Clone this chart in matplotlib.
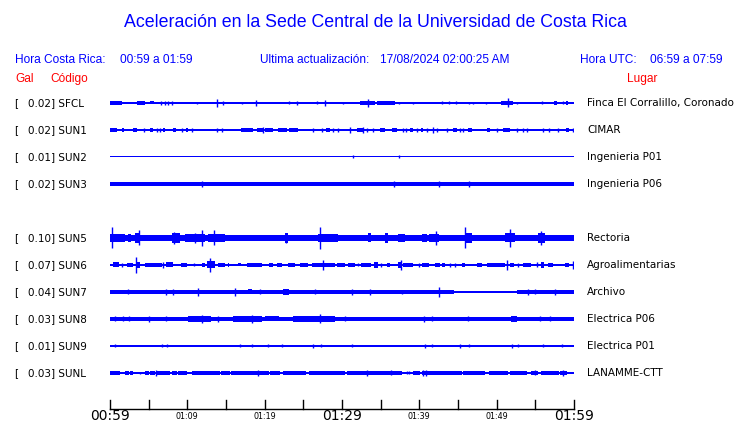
import matplotlib
matplotlib.use("Agg")
import matplotlib.pyplot as plt

# ---------------- data ----------------
codes = ["SFCL", "SUN1", "SUN2", "SUN3", "SUN5", "SUN6", "SUN7", "SUN8", "SUN9", "SUNL"]
gal = [0.02, 0.02, 0.01, 0.02, 0.10, 0.07, 0.04, 0.03, 0.01, 0.03]
places = ["Finca El Corralillo, Coronado", "CIMAR", "Ingenieria P01", "Ingenieria P06",
          "Rectoria", "Agroalimentarias", "Archivo", "Electrica P06", "Electrica P01",
          "LANAMME-CTT"]
title = "Aceleración en la Sede Central de la Universidad de Costa Rica"
cr_range = "00:59 a 01:59"
utc_range = "06:59 a 07:59"
updated = "17/08/2024 02:00:25 AM"
time_labels = ["00:59", "01:09", "01:19", "01:29", "01:39", "01:49", "01:59"]
time_label_minutes = [0, 10, 20, 30, 40, 50, 60]
tick_minutes = [0, 5, 10, 15, 20, 25, 30, 35, 40, 45, 50, 55, 60]

# background amplitude of each trace (half-width of the quiet band)
base_amp = [0.7, 0.7, 0.5, 1.8, 3.0, 0.7, 0.7, 1.8, 0.6, 0.7]

# bursts: (start minute, end minute, half amplitude)
sfcl_bursts = [(0.0, 1.5, 1.6), (3.5, 4.5, 1.8), (5.2, 5.7, 1.5), (32.3, 34.3, 2.2),
               (34.5, 36.9, 1.8), (50.5, 52.1, 1.8), (57.4, 57.8, 1.8), (59.0, 59.2, 1.8)]
sfcl_spikes = [(6.6, 2), (7.1, 2), (7.5, 2), (8.0, 2), (11.25, 1.2), (13.8, 4), (14.6, 2),
               (17.1, 1.2), (18.9, 3), (23.1, 1.5), (24.2, 2), (26.8, 1.5), (27.8, 3),
               (30.1, 1.2), (33.4, 4), (37.4, 1.2), (39.2, 1.2), (42.9, 1.5), (43.8, 1.5),
               (44.7, 1.5), (46.4, 1.2), (46.9, 1.2), (48.6, 1.2), (51.5, 4.5), (52.6, 1.2),
               (55.9, 1.5), (58.6, 1.5)]

sun1_bursts = [(0.0, 0.9, 1.6), (1.55, 1.8, 1.6), (3.0, 3.5, 1.6), (5.2, 5.6, 1.6),
               (6.9, 7.1, 1.6), (8.1, 8.5, 1.6), (9.8, 10.1, 1.6), (11.4, 11.8, 1.4),
               (12.2, 12.6, 1.4), (12.9, 13.3, 1.4), (15.4, 16.5, 1.4), (17.0, 18.5, 1.6),
               (19.0, 19.8, 1.6), (20.0, 21.1, 1.6), (21.7, 22.9, 1.6), (23.1, 24.3, 1.6),
               (27.9, 28.4, 1.6), (31.9, 32.7, 1.6), (34.9, 35.6, 1.6), (36.5, 37.1, 1.6),
               (38.8, 39.2, 1.6), (40.2, 40.5, 1.6), (44.4, 44.9, 1.6), (46.3, 46.8, 1.6),
               (48.8, 49.1, 1.6), (50.8, 51.7, 1.6), (59.0, 59.4, 1.6)]
sun1_spikes = [(4.4, 1.7), (6.1, 1.7), (6.5, 1.7), (9.3, 1.7), (10.6, 1.7), (13.8, 1.7),
               (14.5, 1.7), (19.8, 3), (26.3, 1.7), (27.4, 1.7), (28.8, 1.7), (29.5, 1.7),
               (31.0, 3), (32.7, 3), (33.2, 1.7), (34.0, 1.7), (37.9, 1.7), (38.3, 1.7),
               (39.7, 1.7), (41.0, 1.7), (41.8, 3), (42.3, 1.7), (43.6, 1.7), (45.3, 1.7),
               (45.6, 1.7), (50.0, 1.7), (52.6, 1.7), (53.4, 1.7), (53.9, 1.7), (56.0, 1.7),
               (56.8, 1.7), (57.9, 1.7), (59.9, 1.7)]

sun2_bursts = []
sun2_spikes = [(31.4, 1.5), (37.4, 1.5)]

sun3_bursts = [(40.4, 40.8, 2.4)]
sun3_spikes = [(11.9, 3), (36.7, 3), (42.5, 3), (46.4, 3)]

sun5_bursts = [(0.0, 1.9, 4), (2.3, 2.7, 4), (3.2, 3.9, 5), (8.0, 9.1, 5),
               (9.7, 12.3, 3.8), (12.7, 14.9, 3.8), (22.6, 23.0, 5),
               (26.9, 29.5, 3.8), (33.4, 33.8, 4.5), (35.6, 36.0, 5),
               (37.3, 38.1, 4), (40.3, 41.0, 4.3), (41.2, 42.5, 4.3), (45.9, 46.8, 5),
               (51.1, 52.4, 4.5), (55.4, 56.3, 5)]
sun5_spikes = [(0.3, 10.5), (3.7, 7.5), (8.3, 6), (11.0, 5), (11.9, 8), (13.4, 7.5),
               (22.8, 5), (27.2, 11), (42.2, 7), (45.9, 10.5), (51.7, 9), (55.7, 7)]

sun6_bursts = [(0.4, 1.1, 2.5), (2.2, 3.0, 2), (3.4, 3.9, 3), (4.5, 6.7, 2), (7.3, 8.2, 2.5),
               (9.2, 10.0, 2), (11.9, 12.3, 2), (12.5, 13.6, 3.5), (14.0, 14.9, 2),
               (15.2, 15.4, 2), (16.6, 17.0, 1.5), (17.7, 19.6, 2.3), (20.5, 21.1, 2),
               (21.6, 22.2, 2.3), (23.0, 23.9, 2), (24.6, 25.6, 2), (26.1, 29.1, 2.3),
               (29.3, 30.4, 2.3), (30.8, 31.7, 2), (32.5, 33.8, 2), (34.1, 34.7, 3),
               (35.8, 36.2, 2), (37.3, 37.7, 3), (37.9, 39.2, 2), (40.3, 41.2, 2),
               (42.0, 42.7, 2), (42.9, 43.3, 2.3), (45.5, 45.9, 2.3), (47.4, 48.1, 2),
               (48.7, 51.1, 2), (51.7, 52.2, 2), (53.4, 54.5, 2), (55.7, 56.1, 3),
               (56.7, 57.3, 2), (58.8, 59.3, 2)]
sun6_spikes = [(1.5, 2), (3.3, 8), (6.9, 3), (10.8, 1.5), (12.9, 7), (27.6, 5), (32.1, 1.5),
               (35.1, 2), (37.6, 5), (39.9, 2), (44.0, 2), (44.6, 2), (51.3, 5), (52.8, 2),
               (55.2, 2.5), (59.9, 4)]

sun7_bursts = [(0.0, 44.5, 1.8), (46.3, 47.0, 1.3), (47.5, 48.0, 1.3), (48.5, 49.1, 1.3),
               (50.0, 50.8, 1.3), (51.3, 51.9, 1.3), (52.6, 60.0, 1.8), (22.4, 23.1, 3.0),
               (17.9, 18.3, 2.5), (39.9, 41.2, 2.3)]
sun7_spikes = [(2.3, 2.5), (7.3, 3), (8.2, 3), (11.4, 4), (16.2, 4), (19.4, 2.5), (26.5, 2.5),
               (31.3, 3), (33.6, 3), (37.7, 2.2), (42.5, 5), (54.1, 3), (55.0, 2.5), (57.5, 3)]

sun8_bursts = [(10.1, 13.1, 2.7), (15.9, 19.6, 2.7), (20.0, 21.8, 2.5), (23.7, 29.1, 2.8),
               (34.2, 35.0, 2.4), (51.9, 52.6, 3.0), (56.0, 60.0, 2.1)]
sun8_spikes = [(0.6, 2.5), (1.7, 2.5), (2.5, 2.5), (5.0, 3), (7.3, 2.5), (11.9, 4), (14.0, 3),
               (18.3, 4), (27.2, 4.5), (30.4, 2.5), (40.6, 3), (41.6, 2.5), (46.3, 2.5),
               (55.6, 2.5), (56.9, 2.5)]

sun9_bursts = [(4.8, 5.4, 1.3), (11.2, 12.0, 1.3)]
sun9_spikes = [(0.6, 1.5), (6.7, 1.5), (7.4, 1.5), (16.8, 1.5), (18.4, 1.5), (20.4, 1.5),
               (22.2, 1.5), (26.3, 2), (27.3, 1.5), (31.3, 1.5), (40.7, 2), (41.6, 1.5),
               (45.3, 2), (46.4, 1.5), (52.0, 2), (52.8, 1.5), (56.0, 1.5), (58.5, 1.5)]

sunl_bursts = [(0.0, 1.3, 1.7), (1.9, 2.4, 1.7), (2.6, 3.0, 1.7), (4.5, 5.0, 1.7),
               (5.2, 5.8, 1.7), (6.0, 7.8, 1.7), (8.0, 8.6, 1.7), (8.8, 9.9, 1.7),
               (10.6, 12.3, 1.7), (12.3, 14.2, 1.7), (14.4, 15.5, 1.7), (15.7, 19.2, 1.7),
               (19.3, 20.5, 1.7), (20.7, 22.0, 1.7), (22.4, 25.4, 1.7), (25.7, 30.4, 1.7),
               (30.6, 33.2, 1.7), (33.4, 37.7, 1.7), (39.2, 40.1, 1.7), (40.3, 42.5, 2.1),
               (42.5, 45.5, 1.7), (45.7, 46.8, 1.7), (46.8, 48.5, 1.7), (49.0, 51.5, 1.7),
               (51.7, 53.9, 1.7), (54.5, 55.4, 1.7), (55.7, 58.0, 1.7), (58.2, 59.1, 1.7)]
sunl_spikes = [(3.9, 1.2), (5.9, 3), (19.2, 3), (33.2, 3), (36.4, 2.5), (38.4, 1.5),
               (38.6, 1.5), (40.5, 3), (40.9, 3), (54.9, 2.5), (58.6, 3)]

bursts = [sfcl_bursts, sun1_bursts, sun2_bursts, sun3_bursts, sun5_bursts,
          sun6_bursts, sun7_bursts, sun8_bursts, sun9_bursts, sunl_bursts]
spikes = [sfcl_spikes, sun1_spikes, sun2_spikes, sun3_spikes, sun5_spikes,
          sun6_spikes, sun7_spikes, sun8_spikes, sun9_spikes, sunl_spikes]

# ---------------- layout / style ----------------
W, H = 740, 423
BLUE = "#0000ff"
RED = "#ff0000"
HEAD = ["Liberation Sans", "DejaVu Sans"]
BODY = ["DejaVu Sans"]
slots = [0, 1, 2, 3, 5, 6, 7, 8, 9, 10]   # slot 4 left empty
ROW0, ROWSTEP = 103, 27
X0, X1 = 110, 574

fig = plt.figure(figsize=(W / 100, H / 100), dpi=100)
ax = fig.add_axes([X0 / W, 0, (X1 - X0) / W, 1])
ax.set_xlim(0, 60)
ax.set_ylim(H, 0)   # y measured in pixels from the top
ax.axis("off")


def fx(px):
    return px / W


def fy(py):
    return 1 - py / H


for i, code in enumerate(codes):
    yc = ROW0 + ROWSTEP * slots[i]
    b = base_amp[i]
    ax.fill_between([0, 60], yc - b, yc + b, color=BLUE, lw=0)
    for (t0, t1, h) in bursts[i]:
        ax.fill_between([t0, t1], yc - h, yc + h, color=BLUE, lw=0)
    for (t, h) in spikes[i]:
        ax.vlines(t, yc - h, yc + h, color=BLUE, lw=1.0)
    fig.text(fx(14), fy(yc), "[", fontsize=7.5, family=BODY, va="center", ha="left")
    fig.text(fx(27.5), fy(yc), f"{gal[i]:.2f}] {code}", fontsize=7.5, family=BODY,
             va="center", ha="left")
    fig.text(fx(587), fy(yc), places[i], fontsize=7.5, family=BODY,
             va="center", ha="left")

# time axis
ax.plot([0, 60], [409, 409], color="black", lw=1.0, clip_on=False)
for t in tick_minutes:
    ax.plot([t, t], [400, 409], color="black", lw=1.0, clip_on=False)
for t, lab in zip(time_label_minutes, time_labels):
    big = t in (0, 30, 60)
    ax.text(t, 416.5, lab, fontsize=10 if big else 5.8, family=BODY,
            ha="center", va="center", clip_on=False)

# headers
HS = 8.6
fig.text(fx(375.5), fy(22.5), title, fontsize=12.8, family=HEAD, color=BLUE,
         ha="center", va="center")
fig.text(fx(15), fy(60), "Hora Costa Rica:", fontsize=HS, family=HEAD, color=BLUE, va="center")
fig.text(fx(120), fy(60), cr_range, fontsize=HS, family=HEAD, color=BLUE, va="center")
fig.text(fx(260), fy(60), "Ultima actualización:", fontsize=HS, family=HEAD, color=BLUE,
         va="center")
fig.text(fx(380), fy(60), updated, fontsize=HS, family=HEAD, color=BLUE, va="center")
fig.text(fx(580), fy(60), "Hora UTC:", fontsize=HS, family=HEAD, color=BLUE, va="center")
fig.text(fx(650), fy(60), utc_range, fontsize=HS, family=HEAD, color=BLUE, va="center")
fig.text(fx(15), fy(79), "Gal", fontsize=HS, family=HEAD, color=RED, va="center")
fig.text(fx(50), fy(79), "Código", fontsize=HS, family=HEAD, color=RED, va="center")
fig.text(fx(627), fy(79), "Lugar", fontsize=HS, family=HEAD, color=RED, va="center")

fig.savefig("out.png", dpi=100)
